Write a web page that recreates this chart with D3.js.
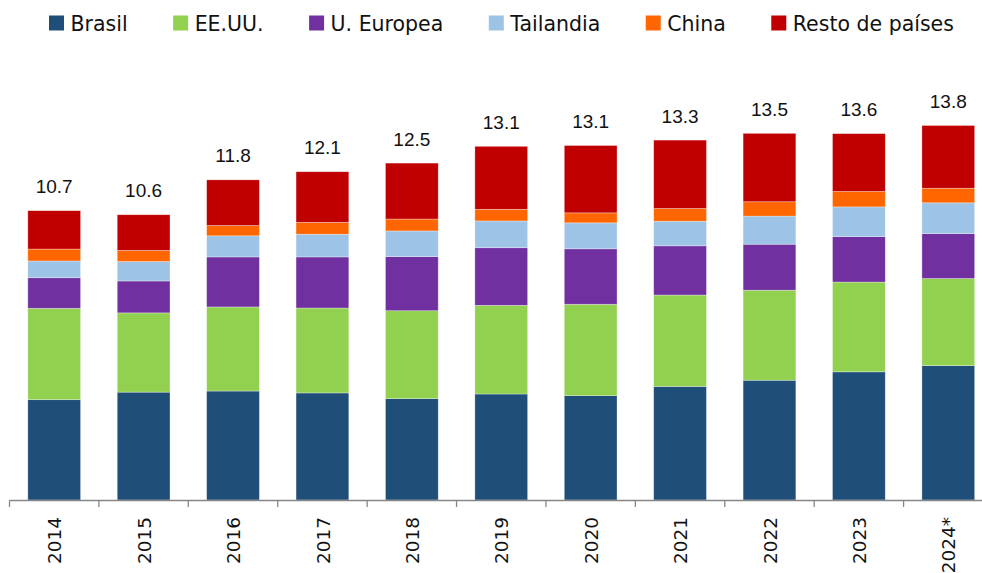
<!DOCTYPE html>
<html lang="es">

<head>
    <meta charset="utf-8">
    <title>Producción por origen</title>
    <script src="https://cdn.jsdelivr.net/npm/d3@7"></script>
    <style>
        body {
            margin: 0;
            background: #fff;
        }

        .legend text {
            font-family: "DejaVu Sans", sans-serif;
            font-size: 20.5px;
            fill: #111;
        }

        .total {
            font-family: "Liberation Sans", Arial, sans-serif;
            font-size: 19px;
            fill: #111;
        }

        .year {
            font-family: "DejaVu Sans", sans-serif;
            font-size: 18.5px;
            fill: #111;
        }
    </style>
</head>

<body>
    <div id="chart"></div>
    <script>
        'use strict';

        // años y valores
        const years = ["2014", "2015", "2016", "2017", "2018", "2019", "2020", "2021", "2022", "2023", "2024*"];
        const brasil = [3.71, 3.99, 4.03, 3.96, 3.75, 3.92, 3.86, 4.20, 4.43, 4.74, 4.97];
        const eeuu = [3.38, 2.93, 3.11, 3.14, 3.25, 3.28, 3.38, 3.38, 3.33, 3.32, 3.22];
        const europa = [1.13, 1.18, 1.85, 1.89, 2.00, 2.13, 2.05, 1.82, 1.70, 1.68, 1.66];
        const tailandia = [0.62, 0.72, 0.78, 0.84, 0.95, 0.99, 0.96, 0.91, 1.04, 1.10, 1.14];
        const china = [0.44, 0.41, 0.38, 0.44, 0.44, 0.43, 0.37, 0.47, 0.53, 0.57, 0.54];
        const resto = [1.42, 1.32, 1.69, 1.87, 2.07, 2.33, 2.49, 2.53, 2.53, 2.14, 2.32];
        const totals = ["10.7", "10.6", "11.8", "12.1", "12.5", "13.1", "13.1", "13.3", "13.5", "13.6", "13.8"];

        const seriesNames = ["Brasil", "EE.UU.", "U. Europea", "Tailandia", "China", "Resto de países"];
        const seriesValues = [brasil, eeuu, europa, tailandia, china, resto];
        const colors = ["#1F4E79", "#92D050", "#7030A0", "#9DC3E6", "#FF6600", "#C00000"];

        const width = 982,
            height = 573;

        const table = years.map((yr, i) => {
            const row = { year: yr };
            seriesNames.forEach((s, j) => row[s] = seriesValues[j][i]);
            return row;
        });

        const stack = d3.stack().keys(seriesNames)(table);

        const x = d3.scaleBand()
            .domain(years)
            .range([9.5, 993])
            .paddingInner(0.41)
            .paddingOuter(0.205);

        const y = d3.scaleLinear()
            .domain([0, 15])
            .range([500, 94.4]);

        const color = d3.scaleOrdinal().domain(seriesNames).range(colors);

        const svg = d3.select("#chart").append("svg")
            .attr("width", width)
            .attr("height", height);

        // barras apiladas
        svg.append("g").selectAll("g")
            .data(stack)
            .join("g")
            .attr("fill", d => color(d.key))
            .selectAll("rect")
            .data(d => d)
            .join("rect")
            .attr("x", d => x(d.data.year))
            .attr("y", d => y(d[1]))
            .attr("width", x.bandwidth())
            .attr("height", d => y(d[0]) - y(d[1]))
            .attr("stroke", "#ffffff")
            .attr("stroke-opacity", 0.45)
            .attr("stroke-width", 0.7);

        // totales sobre cada barra
        const topLayer = stack[stack.length - 1];
        svg.append("g").selectAll("text")
            .data(topLayer)
            .join("text")
            .attr("class", "total")
            .attr("x", d => x(d.data.year) + x.bandwidth() / 2)
            .attr("y", d => y(d[1]) - 17.5)
            .attr("text-anchor", "middle")
            .text((d, i) => totals[i]);

        // eje x con marcas entre categorías
        const axis = svg.append("g");
        axis.append("line")
            .attr("x1", 9.5)
            .attr("x2", width)
            .attr("y1", 500.5)
            .attr("y2", 500.5)
            .attr("stroke", "#868686")
            .attr("stroke-width", 1.3);

        axis.selectAll(".tick")
            .data(years)
            .join("line")
            .attr("class", "tick")
            .attr("x1", d => x(d) - x.step() * x.paddingInner() / 2)
            .attr("x2", d => x(d) - x.step() * x.paddingInner() / 2)
            .attr("y1", 500.5)
            .attr("y2", 507)
            .attr("stroke", "#868686")
            .attr("stroke-width", 1.3);

        axis.selectAll(".year")
            .data(years)
            .join("text")
            .attr("class", "year")
            .attr("transform", d => `translate(${x(d) + x.bandwidth() / 2 + 0.5},517) rotate(-90)`)
            .attr("text-anchor", "end")
            .attr("dy", "0.36em")
            .text(d => d);

        // leyenda
        const legend = svg.append("g").attr("class", "legend");
        let lx = 49;
        seriesNames.forEach((name, i) => {
            legend.append("rect")
                .attr("x", lx)
                .attr("y", 15.5)
                .attr("width", 15)
                .attr("height", 15)
                .attr("fill", colors[i]);
            const t = legend.append("text")
                .attr("x", lx + 21.5)
                .attr("y", 30.5)
                .text(name);
            lx += 21.5 + t.node().getComputedTextLength() + 45.5;
        });
    </script>
</body>

</html>
